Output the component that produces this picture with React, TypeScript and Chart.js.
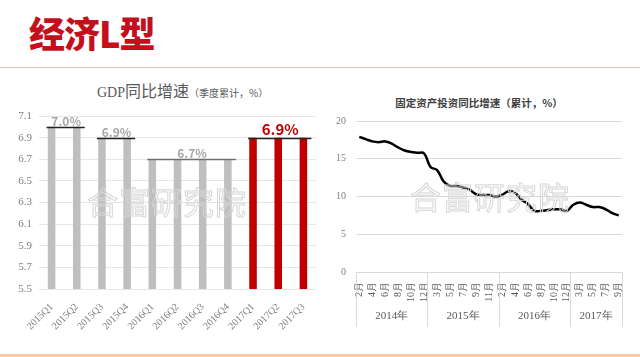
import React, { useEffect, useRef } from "react";
import { Chart, registerables } from "chart.js";

Chart.register(...registerables);

// ---- GDP chart data ----
const gdpQuarters = ["2015Q1", "2015Q2", "2015Q3", "2015Q4", "2016Q1", "2016Q2", "2016Q3", "2016Q4", "2017Q1", "2017Q2", "2017Q3"];
const gdpGrowth = [7.0, 7.0, 6.9, 6.9, 6.7, 6.7, 6.7, 6.7, 6.9, 6.9, 6.9];
const gdpTicks = [5.5, 5.7, 5.9, 6.1, 6.3, 6.5, 6.7, 6.9, 7.1];
const gdpGroupLabels = ["7.0%", "6.9%", "6.7%", "6.9%"];
const gdpGroupStart = [0, 2, 4, 8];
const gdpGroupEnd = [1, 3, 7, 10];

// ---- Fixed asset investment data ----
const fiaMonthLabels = [
  "2月", "3月", "4月", "5月", "6月", "7月", "8月", "9月", "10月", "11月", "12月",
  "2月", "3月", "4月", "5月", "6月", "7月", "8月", "9月", "10月", "11月", "12月",
  "2月", "3月", "4月", "5月", "6月", "7月", "8月", "9月", "10月", "11月", "12月",
  "2月", "3月", "4月", "5月", "6月", "7月", "8月", "9月",
];
const fiaYearLabels = ["2014年", "2015年", "2016年", "2017年"];
const fiaYearSizes = [11, 11, 11, 8];
const fiaGrowth = [
  17.9, 17.6, 17.3, 17.2, 17.3, 17.0, 16.5, 16.1, 15.9, 15.8, 15.7,
  13.9, 13.5, 12.0, 11.4, 11.4, 11.2, 10.9, 10.3, 10.2, 10.2, 10.0,
  10.2, 10.7, 10.5, 9.6, 9.0, 8.1, 8.1, 8.2, 8.3, 8.3, 8.1,
  8.9, 9.2, 8.9, 8.6, 8.6, 8.3, 7.8, 7.5,
];
const fiaTicks = [0, 5, 10, 15, 20];

const GRAY_BAR = "#bfbfbf";
const RED = "#c00000";
const SERIF = "'Liberation Serif', 'DejaVu Serif', serif";
const SANS = "'Noto Sans CJK SC', 'Noto Sans', sans-serif";

const groupMarks = {
  id: "groupMarks",
  afterDatasetsDraw(chart: any) {
    const { ctx, scales } = chart;
    const x = scales.x;
    const y = scales.y;
    ctx.save();
    gdpGroupLabels.forEach((lab, i) => {
      const s = gdpGroupStart[i];
      const e = gdpGroupEnd[i];
      const v = gdpGrowth[s];
      const x0 = x.getPixelForValue(s) - 5;
      const x1 = x.getPixelForValue(e) + 8;
      const py = Math.round(y.getPixelForValue(v)) + 0.5;
      const isRed = i === 3;
      ctx.strokeStyle = i === 2 ? "#6f6f6f" : "#222";
      ctx.lineWidth = 1.5;
      ctx.beginPath();
      ctx.moveTo(x0, py);
      ctx.lineTo(x1, py);
      ctx.stroke();
      const cx = (x.getPixelForValue(s) + x.getPixelForValue(e)) / 2 + 2;
      ctx.fillStyle = isRed ? RED : "#a6a6a6";
      ctx.font = isRed ? `bold 15px ${SANS}` : `bold 12px ${SANS}`;
      ctx.textAlign = "center";
      ctx.textBaseline = "middle";
      ctx.fillText(lab, cx, py - (isRed ? 9 : 6));
    });
    ctx.restore();
  },
};

const yearAxis = {
  id: "yearAxis",
  afterDraw(chart: any) {
    const { ctx, chartArea } = chart;
    const x = chart.scales.x;
    const top = chartArea.bottom;
    const bottom = top + 55;
    const bounds: number[] = [chartArea.left];
    let idx = 0;
    fiaYearSizes.forEach((n, i) => {
      idx += n;
      if (i < fiaYearSizes.length - 1) {
        bounds.push((x.getPixelForValue(idx - 1) + x.getPixelForValue(idx)) / 2);
      }
    });
    bounds.push(chartArea.right);
    ctx.save();
    ctx.strokeStyle = "#d9d9d9";
    ctx.lineWidth = 1;
    bounds.forEach((b) => {
      const bx = Math.round(b) + 0.5;
      ctx.beginPath();
      ctx.moveTo(bx, top);
      ctx.lineTo(bx, bottom);
      ctx.stroke();
    });
    ctx.fillStyle = "#595959";
    ctx.font = `11px ${SERIF}`;
    ctx.textAlign = "center";
    ctx.textBaseline = "middle";
    fiaYearLabels.forEach((lab, i) => {
      ctx.fillText(lab, (bounds[i] + bounds[i + 1]) / 2, top + 44);
    });
    ctx.restore();
  },
};

export default function App() {
  const leftRef = useRef<HTMLCanvasElement>(null);
  const rightRef = useRef<HTMLCanvasElement>(null);

  useEffect(() => {
    const left = new Chart(leftRef.current!, {
      type: "bar",
      data: {
        labels: gdpQuarters,
        datasets: [
          {
            data: gdpGrowth,
            backgroundColor: gdpQuarters.map((q) => (q.startsWith("2017") ? RED : GRAY_BAR)),
            barPercentage: 0.3,
            categoryPercentage: 1,
          },
        ],
      },
      options: {
        animation: false,
        responsive: false,
        maintainAspectRatio: false,
        layout: { padding: { top: 16, right: 4, left: 0, bottom: 0 } },
        plugins: { legend: { display: false }, tooltip: { enabled: false }, title: { display: false } },
        scales: {
          x: {
            grid: { display: false },
            border: { display: false },
            ticks: {
              color: "#7f7f7f",
              font: { family: SERIF, size: 10 },
              minRotation: 45,
              maxRotation: 45,
              autoSkip: false,
              padding: 4,
            },
            afterFit: (s: any) => {
              s.height = 61;
            },
          },
          y: {
            min: 5.5,
            max: 7.1,
            afterBuildTicks: (s: any) => {
              s.ticks = gdpTicks.map((v) => ({ value: v }));
            },
            grid: { color: "#e6e6e6", drawTicks: false },
            border: { display: false },
            ticks: {
              color: "#7f7f7f",
              font: { family: SERIF, size: 11 },
              padding: 7,
              callback: (v: any) => Number(v).toFixed(1),
            },
            afterFit: (s: any) => {
              s.width = 39;
            },
          },
        },
      },
      plugins: [groupMarks],
    });

    const right = new Chart(rightRef.current!, {
      type: "line",
      data: {
        labels: fiaMonthLabels,
        datasets: [
          {
            data: fiaGrowth,
            borderColor: "#000",
            borderWidth: 2.5,
            pointRadius: 0,
            tension: 0.4,
            fill: false,
          },
        ],
      },
      options: {
        animation: false,
        responsive: false,
        maintainAspectRatio: false,
        layout: { padding: { top: 36, right: 18, left: 0, bottom: 0 } },
        plugins: { legend: { display: false }, tooltip: { enabled: false }, title: { display: false } },
        scales: {
          x: {
            offset: true,
            grid: { display: false },
            border: { display: false },
            ticks: {
              color: "#595959",
              font: { family: SERIF, size: 10 },
              minRotation: 90,
              maxRotation: 90,
              autoSkip: false,
              padding: 2,
              callback: (_v: any, i: number) => (i % 2 === 0 ? fiaMonthLabels[i] : ""),
            },
            afterFit: (s: any) => {
              s.height = 78;
            },
          },
          y: {
            min: 0,
            max: 20,
            afterBuildTicks: (s: any) => {
              s.ticks = fiaTicks.map((v) => ({ value: v }));
            },
            grid: { color: "#d9d9d9", drawTicks: false },
            border: { display: false },
            ticks: {
              color: "#7f7f7f",
              font: { family: SERIF, size: 10 },
              padding: 10,
            },
            afterFit: (s: any) => {
              s.width = 36;
            },
          },
        },
      },
      plugins: [yearAxis],
    });

    return () => {
      left.destroy();
      right.destroy();
    };
  }, []);

  const watermark: React.CSSProperties = {
    position: "absolute",
    fontFamily: SANS,
    fontSize: 31,
    letterSpacing: 1,
    color: "transparent",
    WebkitTextStroke: "1px #d6d6d6",
    whiteSpace: "nowrap",
    transform: "translate(-50%, -50%)",
    pointerEvents: "none",
  } as any;

  return (
    <div style={{ position: "absolute", left: 0, top: 0, width: 640, height: 357, background: "#fff", overflow: "hidden" }}>
      <div
        style={{
          position: "absolute",
          left: 29,
          top: 8,
          fontFamily: SANS,
          fontWeight: 900,
          fontSize: 36,
          lineHeight: "48px",
          color: "#c4101c",
          letterSpacing: -1,
        }}
      >
        经济L型
      </div>
      <div style={{ position: "absolute", left: 0, top: 67, width: 640, height: 1, background: "#dcc0b8" }} />
      <div style={{ position: "absolute", left: 0, top: 354, width: 640, height: 3, background: "#f6caa6" }} />

      <div
        style={{
          position: "absolute",
          left: 97,
          top: 79,
          whiteSpace: "nowrap",
          color: "#595959",
          lineHeight: "22px",
        }}
      >
        <span style={{ fontFamily: SERIF, fontSize: 14 }}>GDP</span>
        <span style={{ fontFamily: SANS, fontSize: 16 }}>同比增速</span>
        <span style={{ fontFamily: SANS, fontSize: 10 }}>（季度累计，%）</span>
      </div>

      <div
        style={{
          position: "absolute",
          left: 479,
          top: 102,
          transform: "translate(-50%, -50%)",
          whiteSpace: "nowrap",
          fontFamily: SANS,
          fontWeight: "bold",
          fontSize: 10.5,
          color: "#404040",
        }}
      >
        固定资产投资同比增速（累计，%）
      </div>

      <canvas ref={leftRef} width={320} height={250} style={{ position: "absolute", left: 0, top: 100, width: 320, height: 250 }} />
      <canvas ref={rightRef} width={320} height={265} style={{ position: "absolute", left: 320, top: 85, width: 320, height: 265 }} />

      <div style={{ ...watermark, left: 167, top: 200 }}>合富研究院</div>
      <div style={{ ...watermark, left: 490, top: 195 }}>合富研究院</div>
    </div>
  );
}
